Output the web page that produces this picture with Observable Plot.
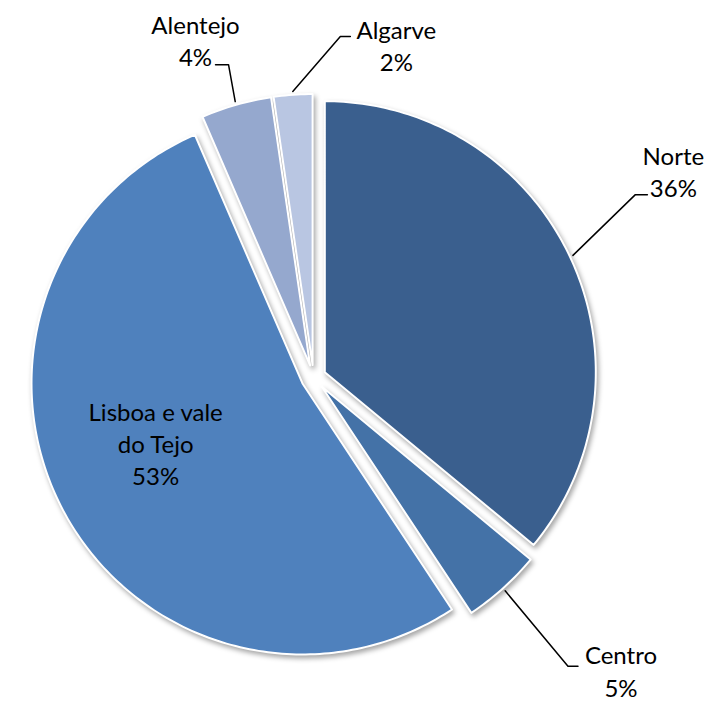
<!DOCTYPE html>
<html>
<head>
<meta charset="utf-8">
<script src="https://cdn.jsdelivr.net/npm/d3@7"></script>
<script src="https://cdn.jsdelivr.net/npm/@observablehq/plot@0.6"></script>
<style>
  html, body { margin: 0; padding: 0; background: #ffffff; }
  #chart svg { display: block; }
</style>
</head>
<body>
<div id="chart"></div>
<script>
// ---- data ----
const categories = ["Norte", "Centro", "Lisboa e vale do Tejo", "Alentejo", "Algarve"];
const shares = [36.0, 4.7, 52.8, 4.2, 2.3];
const labelNames = ["Norte", "Centro", "Lisboa e vale\ndo Tejo", "Alentejo", "Algarve"];
const colors = ["#3A5F8E", "#4472A7", "#4F81BD", "#95A8CE", "#B9C6E2"];

// ---- layout ----
const W = 711, H = 702;
const R = 271;            // pie radius in px
const CX = 313, CY = 377; // pie centre in px
const explode = 12.5 / R;
const labelLayout = {
  "Norte":                 {ea: 60.4,  er: 1.366, dir: 1,  len: 12, tdx: 26,  tdy: -24},
  "Centro":                {ea: 138.6, er: 1.42,  dir: 1,  len: 10, tdx: 43,  tdy: 4},
  "Lisboa e vale do Tejo": {inside: true, a: 247.6, r: 0.63},
  "Alentejo":              {ea: 344.8, er: 1.196, dir: -1, len: 13, tdx: -20, tdy: -25},
  "Algarve":               {ea: 4.5,   er: 1.262, dir: 1,  len: 10, tdx: 46,  tdy: 8}
};

const total = d3.sum(shares);
const arcs = d3.pie().sort(null).value(d => d.value)(
  categories.map((name, i) => ({name, value: shares[i], i}))
);
const pt = (a, r, ox = 0, oy = 0) => [ox + r * Math.sin(a), oy + r * Math.cos(a)];
const rad = deg => deg * Math.PI / 180;

const slicePts = [];
const leaderPts = [];
const labels = [];
for (const s of arcs) {
  const name = s.data.name;
  const mid = (s.startAngle + s.endAngle) / 2;
  const [ox, oy] = pt(mid, explode);
  slicePts.push({name, x: ox, y: oy});
  const n = Math.max(10, Math.ceil((s.endAngle - s.startAngle) / rad(1)));
  for (let k = 0; k <= n; k++) {
    const a = s.startAngle + (s.endAngle - s.startAngle) * k / n;
    const [x, y] = pt(a, 1, ox, oy);
    slicePts.push({name, x, y});
  }
  slicePts.push({name, x: ox, y: oy});

  const L = labelLayout[name];
  const pct = Math.round(s.data.value / total * 100) + "%";
  const text = labelNames[s.data.i] + "\n" + pct;
  if (L.inside) {
    const [x, y] = pt(rad(L.a), L.r);
    labels.push({name, x, y, text});
  } else {
    const [sx, sy] = pt(mid, 1 + explode + 0.012);
    const [exx, eyy] = pt(rad(L.ea), L.er);
    const endx = exx + L.dir * L.len / R;
    leaderPts.push({name, x: sx, y: sy}, {name, x: exx, y: eyy}, {name, x: endx, y: eyy});
    labels.push({name, x: endx + L.tdx / R, y: eyy - L.tdy / R, text});
  }
}

const chart = Plot.plot({
  width: W,
  height: H,
  margin: 0,
  x: {domain: [-CX / R, (W - CX) / R], axis: null},
  y: {domain: [-(H - CY) / R, CY / R], axis: null},
  color: {domain: categories, range: colors},
  style: {fontFamily: "Lato, 'Open Sans', sans-serif", background: "#ffffff"},
  marks: [
    Plot.line(slicePts, {x: "x", y: "y", z: "name", fill: "name", stroke: "#ffffff", strokeWidth: 2}),
    Plot.line(leaderPts, {x: "x", y: "y", z: "name", stroke: "#000000", strokeWidth: 1.5}),
    Plot.text(labels, {x: "x", y: "y", text: "text", fontSize: 24, lineHeight: 1.34,
      fill: "#000000", textAnchor: "middle", fontFamily: "Lato, 'Open Sans', sans-serif"})
  ]
});
const sliceGroup = chart.querySelector('g[aria-label="line"]');
if (sliceGroup) sliceGroup.style.filter = "drop-shadow(2px 3px 2.5px rgba(0,0,0,0.35))";
document.getElementById("chart").appendChild(chart);
</script>
</body>
</html>
